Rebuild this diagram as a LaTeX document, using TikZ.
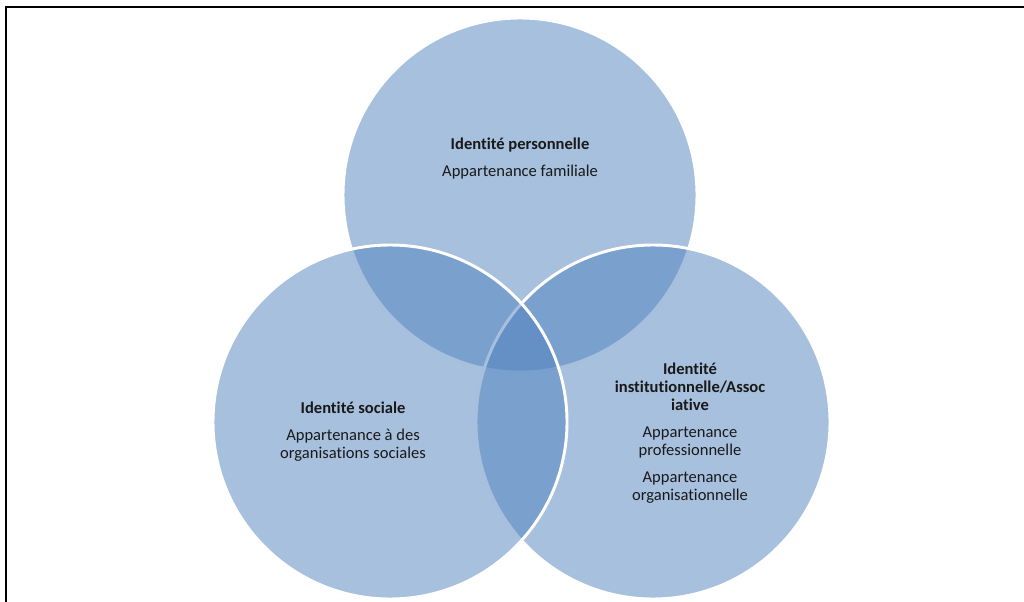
\documentclass[tikz,border=0pt]{standalone}
\usepackage{fontspec}
\setmainfont{Carlito}[Ligatures=NoCommon]
\definecolor{vennblue}{HTML}{4F81BD}

\begin{document}
\begin{tikzpicture}[x=0.75pt,y=-0.75pt,
  ring/.style={fill=vennblue,fill opacity=.5,draw=white,line width=2.2pt},
  venntext/.style={align=center,font=\fontsize{12.4}{13.5}\selectfont,text=black!90}]
  \useasboundingbox (0,0) rectangle (1024,602);
  % frame, only top and left sides show
  \draw[line width=2.2pt] (6,602) -- (6,7) -- (1025,7);
  % the three circles, top first so the left one lies above
  \draw[ring] (520,195) circle (177);
  \draw[ring] (653,422) circle (177);
  \draw[ring] (390,422) circle (177);
  \node[venntext] (perso) at (520,159) {\textbf{Identité personnelle}\\[6.75pt]Appartenance familiale};
  \node[venntext] (social) at (353,432) {\textbf{Identité sociale}\\[6.75pt]Appartenance à des\\organisations sociales};
  \node[venntext] (instit) at (690,433) {\textbf{Identité}\\\textbf{institutionnelle/Assoc}\\\textbf{iative}\\[6.75pt]Appartenance\\professionnelle\\[6.75pt]Appartenance\\organisationnelle};
\end{tikzpicture}
\end{document}
